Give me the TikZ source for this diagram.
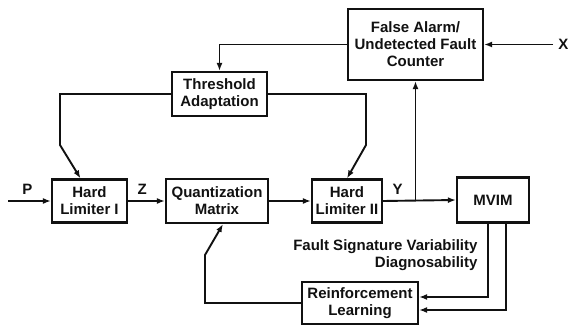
\documentclass[tikz,border=0pt]{standalone}
\usepackage{fontspec}
\setmainfont{Liberation Sans}
\usepackage{tikz}
\usetikzlibrary{arrows.meta,positioning,calc}
\definecolor{bink}{HTML}{111111}

\begin{document}
\begin{tikzpicture}[x=1pt,y=-1pt,
    every node/.style={font=\fontsize{15}{17}\selectfont\bfseries,text=bink},
    blk/.style={draw=bink,line width=2.2pt,align=center,inner sep=2pt},
    flow/.style={draw=bink,line width=1.9pt,-{Latex[length=8pt,width=6pt]}}]
  \useasboundingbox (0,0) rectangle (568,326);

  \node[blk,minimum width=135pt,minimum height=71pt] (cnt) at (415.5,44.5)
    {False Alarm/\\Undetected Fault\\Counter};
  \node[blk,minimum width=95pt,minimum height=44pt]  (thr)  at (219.5,94) {Threshold\\Adaptation};
  \node[blk,minimum width=75pt,minimum height=43pt]  (hl1)  at (89.5,201) {Hard\\Limiter I};
  \node[blk,minimum width=102pt,minimum height=44pt] (qm)   at (217,201)  {Quantization\\Matrix};
  \node[blk,minimum width=70pt,minimum height=43pt]  (hl2)  at (347,201)  {Hard\\Limiter II};
  \node[blk,minimum width=72pt,minimum height=45pt]  (mvim) at (493,200)  {MVIM};
  \node[blk,minimum width=116pt,minimum height=42pt] (rl)   at (360,303)  {Reinforcement\\Learning};

  \coordinate (xin) at (553,44.5);
  \coordinate (pin) at (8,201);
  \coordinate (br)  at (415.5,201);
  \coordinate (k1)  at (60,145);
  \coordinate (k2)  at (366,145);
  \coordinate (k3)  at (205,255);

  % main path
  \draw[flow] (pin) -- (hl1.west) node[pos=0.45,above=2pt] {P};
  \draw[flow] (hl1.east) -- (qm.west) node[pos=0.38,above=2pt] {Z};
  \draw[flow] (qm.east) -- (hl2.west);
  \draw[flow] (hl2.east) -- (mvim.west) node[pos=0.2,above=2pt] {Y};
  \draw[flow] (br) -- (cnt.south);

  % threshold feedback
  \draw[flow] (xin) -- (cnt.east) node[at start,right=1pt] {X};
  \draw[flow] (cnt.west) -| (thr.north);
  \draw[flow] (thr.west) -| (k1) -- ([xshift=-9pt]hl1.north);
  \draw[flow] (thr.east) -| (k2) -- (hl2.north);

  % learning loop
  \draw[flow] ([xshift=-5pt]mvim.south) |- ([yshift=6pt]rl.east);
  \draw[flow] ([xshift=13pt]mvim.south) |- ([yshift=-7pt]rl.east);
  \draw[flow] (rl.west) -| (k3) -- ([xshift=6pt]qm.south);

  \node[anchor=east,align=right] (fsv) at (481,255)
    {Fault Signature Variability\\Diagnosability};
\end{tikzpicture}
\end{document}
